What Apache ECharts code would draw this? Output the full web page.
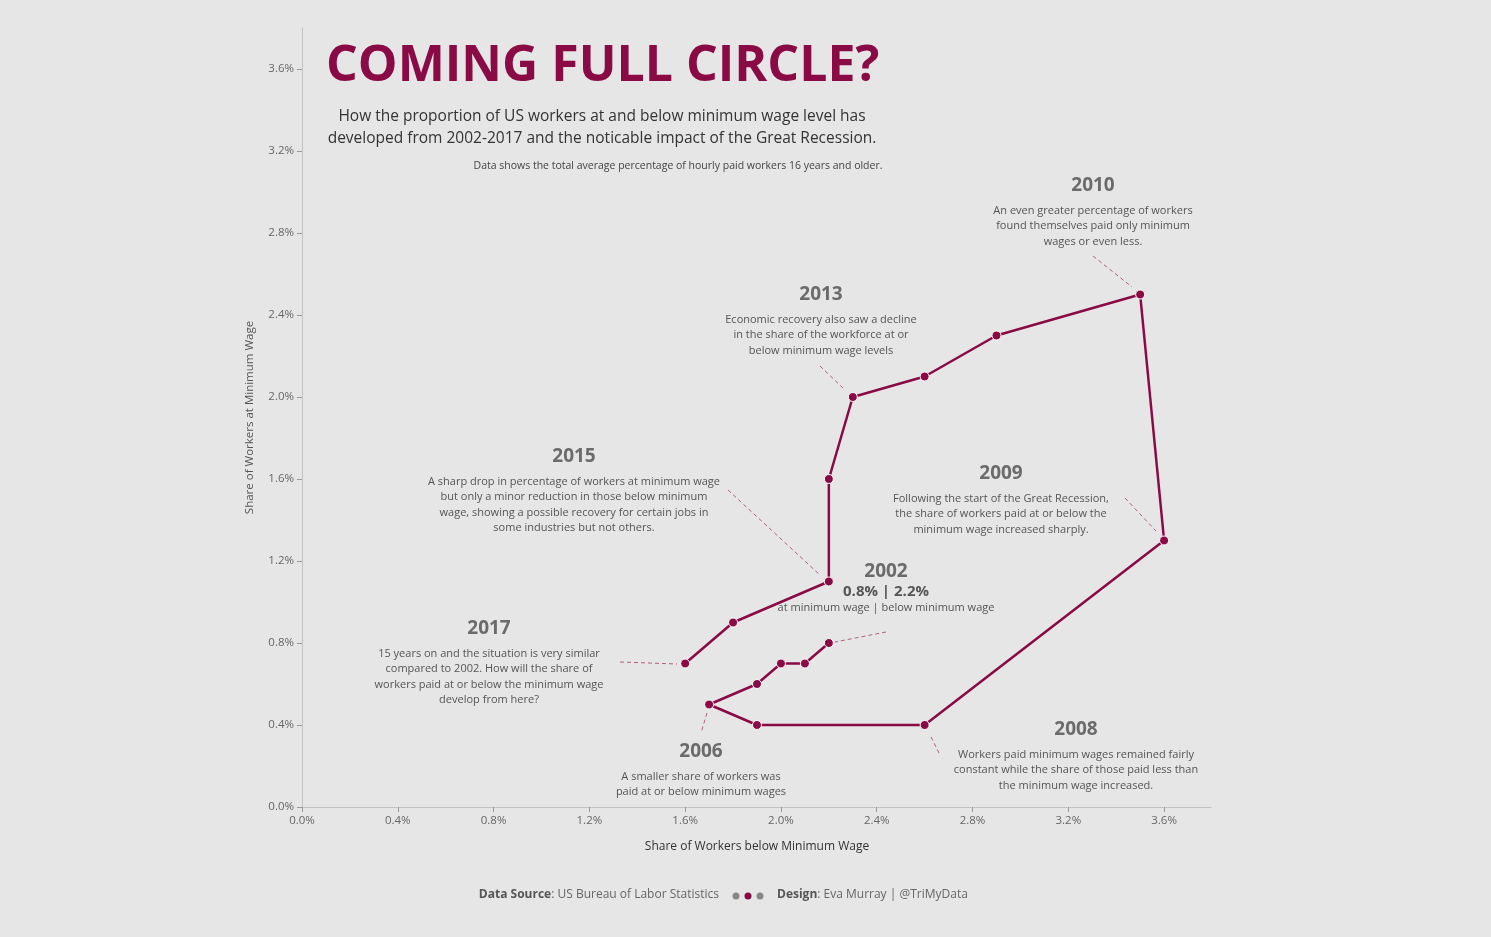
<!DOCTYPE html>
<html><head><meta charset="utf-8">
<script src="https://cdn.jsdelivr.net/npm/echarts@6/dist/echarts.min.js"></script>
<style>html,body{margin:0;background:#e6e6e6}#c{width:1491px;height:937px}</style>
</head><body><div id="c"></div>
<script>
const years=[2002,2003,2004,2005,2006,2007,2008,2009,2010,2011,2012,2013,2014,2015,2016,2017];
const belowMin=[2.2,2.1,2.0,1.9,1.7,1.9,2.6,3.6,3.5,2.9,2.6,2.3,2.2,2.2,1.8,1.6];
const atMin=[0.8,0.7,0.7,0.6,0.5,0.4,0.4,1.3,2.5,2.3,2.1,2.0,1.6,1.1,0.9,0.7];
const tickFmt=v=>v.toFixed(1)+'%';
const C='#8a0a46', G='#666';
const chart=echarts.init(document.getElementById('c'));
const F='"Open Sans", "Noto Sans", sans-serif';
function T(x,y,text,font,fill,align,lh){return {type:'text',style:{x,y,text,font,fill,textAlign:align||'center',textVerticalAlign:'top',lineHeight:lh}};}
function ann(x,y,head,body,extra){
  const els=[T(x,y,head,'bold 19px '+F,'#6b6b6b')];
  els.push(T(x,y+(extra?38:27),body,'11px '+F,'#555','center',15.5));
  if(extra) els.push(T(x,y+22,extra,'bold 15px '+F,'#555'));
  return els;
}
function ln(x1,y1,x2,y2){return {type:'line',shape:{x1,y1,x2,y2},style:{stroke:'#b06080',lineWidth:1,lineDash:[4,3]}};}
const graphics=[
 T(326,42,'COMING FULL CIRCLE?','bold 50px '+F,C,'left'),
 T(602,106,'How the proportion of US workers at and below minimum wage level has\ndeveloped from 2002-2017 and the noticable impact of the Great Recession.','15.5px '+F,'#333','center',22),
 T(678,161,'Data shows the total average percentage of hourly paid workers 16 years and older.','10.5px '+F,'#444'),
 ...ann(1093,176,'2010','An even greater percentage of workers\nfound themselves paid only minimum\nwages or even less.'),
 ...ann(821,285,'2013','Economic recovery also saw a decline\nin the share of the workforce at or\nbelow minimum wage levels'),
 ...ann(574,447,'2015','A sharp drop in percentage of workers at minimum wage\nbut only a minor reduction in those below minimum\nwage, showing a possible recovery for certain jobs in\nsome industries but not others.'),
 ...ann(1001,464,'2009','Following the start of the Great Recession,\nthe share of workers paid at or below the\nminimum wage increased sharply.'),
 ...ann(886,562,'2002','at minimum wage | below minimum wage','0.8% | 2.2%'),
 ...ann(489,619,'2017','15 years on and the situation is very similar\ncompared to 2002. How will the share of\nworkers paid at or below the minimum wage\ndevelop from here?'),
 ...ann(701,742,'2006','A smaller share of workers was\npaid at or below minimum wages'),
 ...ann(1076,720,'2008','Workers paid minimum wages remained fairly\nconstant while the share of those paid less than\nthe minimum wage increased.'),
 ln(1093,256,1132,287), ln(820,366,845,390), ln(728,490,820,575), ln(1125,498,1156,531),
 ln(886,632,835,642), ln(620,662,677,664), ln(707,713,701,733), ln(931,737,940,755),
 {type:'text',style:{x:719,y:889,rich:{b:{font:'bold 12px '+F,fill:'#555'},n:{font:'12px '+F,fill:'#666'}},text:'{b|Data Source}{n|: US Bureau of Labor Statistics}',textAlign:'right',textVerticalAlign:'top'}},
 {type:'circle',shape:{cx:736,cy:896,r:3.5},style:{fill:'#888'}},
 {type:'circle',shape:{cx:748,cy:896,r:3.5},style:{fill:C}},
 {type:'circle',shape:{cx:760,cy:896,r:3.5},style:{fill:'#888'}},
 {type:'text',style:{x:777,y:889,rich:{b:{font:'bold 12px '+F,fill:'#555'},n:{font:'12px '+F,fill:'#666'}},text:'{b|Design}{n|: Eva Murray | @TriMyData}',textVerticalAlign:'top'}}
];
const axisCommon={type:'value',min:0,max:3.8,interval:0.4,
 axisLine:{show:true,lineStyle:{color:'#bbb',type:'dotted'}},
 axisTick:{show:true,lineStyle:{color:'#999'}},splitLine:{show:false},
 axisLabel:{formatter:tickFmt,color:'#666',fontSize:11.5,fontFamily:F,showMaxLabel:false}};
chart.setOption({
 backgroundColor:'#e6e6e6',
 grid:{left:302,right:279,top:28,bottom:130,containLabel:false,outerBoundsMode:'none'},
 xAxis:Object.assign({},axisCommon,{name:'Share of Workers below Minimum Wage',nameLocation:'middle',nameGap:34,
   nameTextStyle:{color:'#333',fontSize:12,fontFamily:F}}),
 yAxis:Object.assign({},axisCommon,{name:'Share of Workers at Minimum Wage',nameLocation:'middle',nameRotate:90,nameGap:46,
   nameTextStyle:{color:'#555',fontSize:11.5,fontFamily:F}}),
 series:[{type:'line',data:belowMin.map((v,i)=>[v,atMin[i],years[i]]),symbol:'circle',symbolSize:9,
   lineStyle:{color:C,width:2.5},itemStyle:{color:C,borderColor:'#fff',borderWidth:1},animation:false}],
 graphic:graphics
});
</script></body></html>
